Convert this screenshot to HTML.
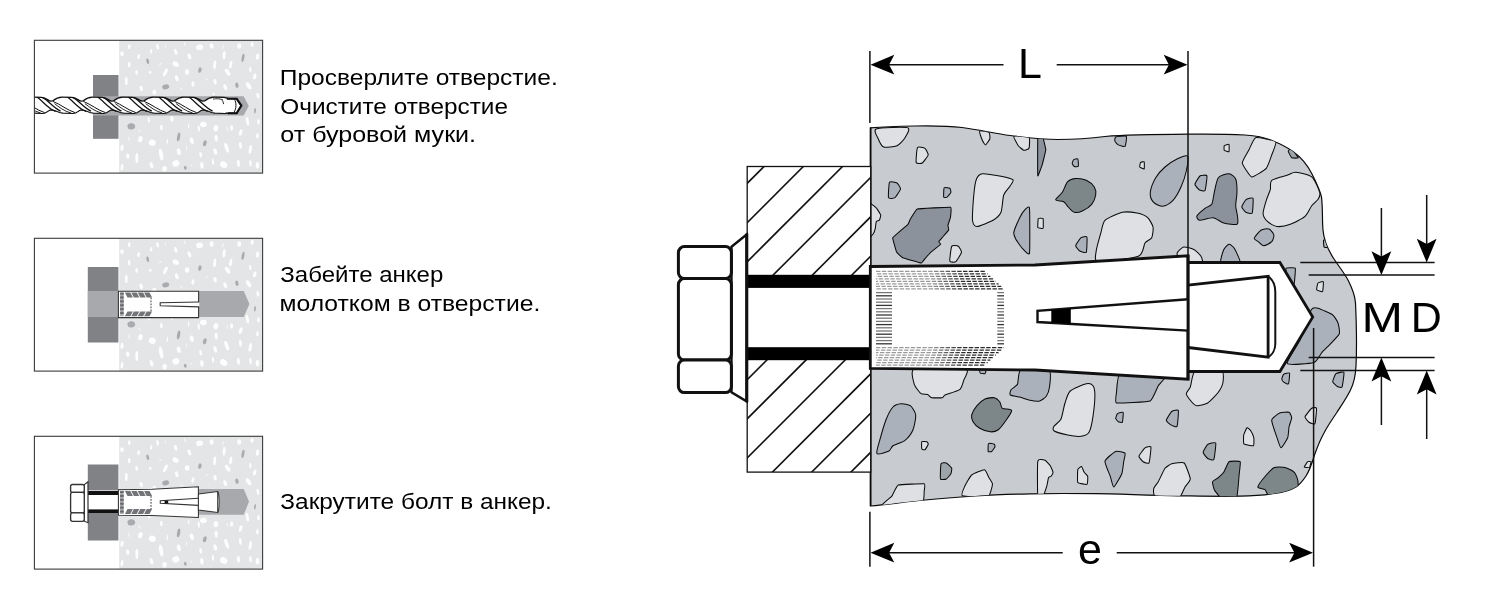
<!DOCTYPE html>
<html><head><meta charset="utf-8"><title>Anchor installation</title>
<style>
html,body{margin:0;padding:0;background:#fff;}
body{width:1500px;height:600px;overflow:hidden;font-family:"Liberation Sans",sans-serif;}
svg{display:block;}
</style></head><body>
<svg width="1500" height="600" viewBox="0 0 1500 600">
<rect width="1500" height="600" fill="#fff"/>
<filter id="nf" x="0" y="0" width="1500" height="600" filterUnits="userSpaceOnUse"><feOffset dx="0" dy="0"/></filter>
<defs><g id="spk">
<rect x="119.2" y="0" width="143.3" height="132.8" fill="#e4e5e6"/>
<ellipse cx="129.2" cy="6.4" rx="1.33" ry="2.44" fill="#fdfdfd" transform="rotate(0 129.2 6.4)"/>
<ellipse cx="122.0" cy="13.4" rx="1.77" ry="2.44" fill="#fdfdfd" transform="rotate(0 122.0 13.4)"/>
<ellipse cx="129.2" cy="24.3" rx="1.33" ry="2.77" fill="#fdfdfd" transform="rotate(0 129.2 24.3)"/>
<ellipse cx="126.3" cy="40.6" rx="1.33" ry="4.21" fill="#fdfdfd" transform="rotate(0 126.3 40.6)"/>
<ellipse cx="136.6" cy="32.1" rx="1.33" ry="2.44" fill="#fdfdfd" transform="rotate(0 136.6 32.1)"/>
<ellipse cx="138.6" cy="16.4" rx="1.33" ry="2.44" fill="#fdfdfd" transform="rotate(10 138.6 16.4)"/>
<ellipse cx="141.2" cy="48.1" rx="1.66" ry="2.77" fill="#fdfdfd" transform="rotate(-15 141.2 48.1)"/>
<ellipse cx="147.7" cy="21.0" rx="1.33" ry="2.77" fill="#a9abae" transform="rotate(-15 147.7 21.0)"/>
<ellipse cx="151.2" cy="11.1" rx="1.11" ry="2.44" fill="#fdfdfd" transform="rotate(10 151.2 11.1)"/>
<ellipse cx="150.2" cy="32.1" rx="1.33" ry="1.33" fill="#fdfdfd" transform="rotate(0 150.2 32.1)"/>
<ellipse cx="154.3" cy="51.9" rx="1.99" ry="2.44" fill="#fdfdfd" transform="rotate(0 154.3 51.9)"/>
<ellipse cx="157.6" cy="6.4" rx="1.33" ry="2.77" fill="#fdfdfd" transform="rotate(-10 157.6 6.4)"/>
<ellipse cx="165.4" cy="32.1" rx="1.66" ry="4.21" fill="#fdfdfd" transform="rotate(25 165.4 32.1)"/>
<ellipse cx="165.7" cy="46.5" rx="3.55" ry="2.44" fill="#a9abae" transform="rotate(-15 165.7 46.5)"/>
<ellipse cx="175.7" cy="11.5" rx="1.44" ry="3.10" fill="#fdfdfd" transform="rotate(-15 175.7 11.5)"/>
<ellipse cx="175.7" cy="23.9" rx="3.32" ry="2.44" fill="#fdfdfd" transform="rotate(30 175.7 23.9)"/>
<ellipse cx="176.8" cy="37.9" rx="1.66" ry="3.10" fill="#fdfdfd" transform="rotate(-15 176.8 37.9)"/>
<ellipse cx="187.1" cy="31.8" rx="2.22" ry="2.77" fill="#fdfdfd" transform="rotate(0 187.1 31.8)"/>
<ellipse cx="189.4" cy="16.1" rx="1.66" ry="3.10" fill="#fdfdfd" transform="rotate(-20 189.4 16.1)"/>
<ellipse cx="192.9" cy="43.8" rx="1.44" ry="2.77" fill="#fdfdfd" transform="rotate(10 192.9 43.8)"/>
<ellipse cx="199.6" cy="7.0" rx="3.55" ry="2.77" fill="#fdfdfd" transform="rotate(-10 199.6 7.0)"/>
<ellipse cx="199.9" cy="29.8" rx="1.66" ry="2.77" fill="#a9abae" transform="rotate(15 199.9 29.8)"/>
<ellipse cx="211.6" cy="5.6" rx="1.99" ry="2.77" fill="#fdfdfd" transform="rotate(-10 211.6 5.6)"/>
<ellipse cx="214.7" cy="24.5" rx="1.44" ry="4.43" fill="#fdfdfd" transform="rotate(5 214.7 24.5)"/>
<ellipse cx="215.1" cy="41.4" rx="1.66" ry="2.77" fill="#fdfdfd" transform="rotate(-10 215.1 41.4)"/>
<ellipse cx="224.1" cy="15.0" rx="1.44" ry="4.21" fill="#fdfdfd" transform="rotate(5 224.1 15.0)"/>
<ellipse cx="225.2" cy="46.9" rx="1.66" ry="3.10" fill="#fdfdfd" transform="rotate(-20 225.2 46.9)"/>
<ellipse cx="227.6" cy="31.9" rx="1.99" ry="3.88" fill="#fdfdfd" transform="rotate(-35 227.6 31.9)"/>
<ellipse cx="230.7" cy="24.3" rx="1.44" ry="3.88" fill="#fdfdfd" transform="rotate(10 230.7 24.3)"/>
<ellipse cx="236.9" cy="44.9" rx="1.66" ry="2.77" fill="#a9abae" transform="rotate(-10 236.9 44.9)"/>
<ellipse cx="239.2" cy="5.6" rx="1.99" ry="2.77" fill="#fdfdfd" transform="rotate(0 239.2 5.6)"/>
<ellipse cx="243.0" cy="17.5" rx="1.33" ry="4.21" fill="#a9abae" transform="rotate(10 243.0 17.5)"/>
<ellipse cx="248.6" cy="45.5" rx="1.99" ry="3.88" fill="#fdfdfd" transform="rotate(-35 248.6 45.5)"/>
<ellipse cx="250.3" cy="29.2" rx="1.11" ry="2.77" fill="#fdfdfd" transform="rotate(-5 250.3 29.2)"/>
<ellipse cx="252.1" cy="4.1" rx="1.66" ry="2.44" fill="#fdfdfd" transform="rotate(10 252.1 4.1)"/>
<ellipse cx="254.7" cy="36.2" rx="1.55" ry="3.10" fill="#fdfdfd" transform="rotate(15 254.7 36.2)"/>
<ellipse cx="257.5" cy="16.4" rx="1.66" ry="3.10" fill="#fdfdfd" transform="rotate(5 257.5 16.4)"/>
<ellipse cx="257.9" cy="55.4" rx="1.33" ry="3.10" fill="#fdfdfd" transform="rotate(-10 257.9 55.4)"/>
<ellipse cx="213.6" cy="53.7" rx="1.11" ry="1.33" fill="#fdfdfd" transform="rotate(0 213.6 53.7)"/>
<ellipse cx="184.8" cy="4.1" rx="0.55" ry="1.99" fill="#fdfdfd" transform="rotate(-15 184.8 4.1)"/>
<ellipse cx="165.4" cy="5.9" rx="0.44" ry="1.66" fill="#fdfdfd" transform="rotate(10 165.4 5.9)"/>
<ellipse cx="222.9" cy="7.0" rx="0.44" ry="2.44" fill="#fdfdfd" transform="rotate(15 222.9 7.0)"/>
<ellipse cx="160.3" cy="23.9" rx="0.44" ry="1.66" fill="#fdfdfd" transform="rotate(50 160.3 23.9)"/>
<ellipse cx="206.6" cy="39.1" rx="0.44" ry="1.66" fill="#fdfdfd" transform="rotate(50 206.6 39.1)"/>
<ellipse cx="181.5" cy="48.8" rx="0.44" ry="1.66" fill="#fdfdfd" transform="rotate(-40 181.5 48.8)"/>
<ellipse cx="131.3" cy="86.1" rx="3.88" ry="3.10" fill="#a9abae" transform="rotate(-10 131.3 86.1)"/>
<ellipse cx="148.8" cy="79.7" rx="1.11" ry="2.77" fill="#fdfdfd" transform="rotate(-5 148.8 79.7)"/>
<ellipse cx="171.9" cy="78.5" rx="1.66" ry="2.77" fill="#fdfdfd" transform="rotate(-5 171.9 78.5)"/>
<ellipse cx="161.4" cy="87.3" rx="1.33" ry="2.77" fill="#fdfdfd" transform="rotate(-5 161.4 87.3)"/>
<ellipse cx="188.7" cy="85.5" rx="0.66" ry="2.77" fill="#fdfdfd" transform="rotate(5 188.7 85.5)"/>
<ellipse cx="198.8" cy="88.4" rx="1.11" ry="3.10" fill="#fdfdfd" transform="rotate(-5 198.8 88.4)"/>
<ellipse cx="203.4" cy="84.1" rx="3.32" ry="2.77" fill="#fdfdfd" transform="rotate(0 203.4 84.1)"/>
<ellipse cx="215.9" cy="87.9" rx="2.44" ry="3.10" fill="#fdfdfd" transform="rotate(10 215.9 87.9)"/>
<ellipse cx="231.6" cy="87.6" rx="1.55" ry="2.77" fill="#fdfdfd" transform="rotate(0 231.6 87.6)"/>
<ellipse cx="247.4" cy="80.9" rx="1.44" ry="4.43" fill="#fdfdfd" transform="rotate(-10 247.4 80.9)"/>
<ellipse cx="258.5" cy="81.4" rx="1.33" ry="2.77" fill="#fdfdfd" transform="rotate(0 258.5 81.4)"/>
<ellipse cx="255.0" cy="70.4" rx="0.89" ry="2.77" fill="#a9abae" transform="rotate(5 255.0 70.4)"/>
<ellipse cx="240.7" cy="92.3" rx="1.66" ry="3.32" fill="#fdfdfd" transform="rotate(15 240.7 92.3)"/>
<ellipse cx="257.5" cy="95.4" rx="1.33" ry="2.77" fill="#fdfdfd" transform="rotate(5 257.5 95.4)"/>
<ellipse cx="140.4" cy="98.9" rx="2.22" ry="3.10" fill="#fdfdfd" transform="rotate(15 140.4 98.9)"/>
<ellipse cx="152.3" cy="102.4" rx="3.55" ry="3.10" fill="#fdfdfd" transform="rotate(20 152.3 102.4)"/>
<ellipse cx="178.6" cy="96.6" rx="1.55" ry="4.43" fill="#a9abae" transform="rotate(10 178.6 96.6)"/>
<ellipse cx="191.8" cy="100.5" rx="1.99" ry="3.32" fill="#fdfdfd" transform="rotate(-15 191.8 100.5)"/>
<ellipse cx="204.8" cy="103.0" rx="1.77" ry="3.10" fill="#a9abae" transform="rotate(15 204.8 103.0)"/>
<ellipse cx="216.2" cy="97.8" rx="1.55" ry="3.32" fill="#fdfdfd" transform="rotate(-5 216.2 97.8)"/>
<ellipse cx="226.7" cy="107.5" rx="1.77" ry="4.99" fill="#fdfdfd" transform="rotate(-20 226.7 107.5)"/>
<ellipse cx="240.4" cy="105.1" rx="1.44" ry="3.32" fill="#fdfdfd" transform="rotate(-5 240.4 105.1)"/>
<ellipse cx="250.3" cy="109.1" rx="1.55" ry="4.43" fill="#fdfdfd" transform="rotate(10 250.3 109.1)"/>
<ellipse cx="122.0" cy="107.5" rx="1.55" ry="3.10" fill="#fdfdfd" transform="rotate(5 122.0 107.5)"/>
<ellipse cx="127.8" cy="115.9" rx="1.66" ry="2.77" fill="#fdfdfd" transform="rotate(-5 127.8 115.9)"/>
<ellipse cx="136.8" cy="117.6" rx="1.44" ry="4.99" fill="#fdfdfd" transform="rotate(0 136.8 117.6)"/>
<ellipse cx="161.1" cy="114.1" rx="1.99" ry="6.09" fill="#fdfdfd" transform="rotate(-10 161.1 114.1)"/>
<ellipse cx="178.8" cy="111.5" rx="1.99" ry="3.32" fill="#fdfdfd" transform="rotate(-10 178.8 111.5)"/>
<ellipse cx="200.7" cy="114.5" rx="1.33" ry="2.77" fill="#fdfdfd" transform="rotate(-10 200.7 114.5)"/>
<ellipse cx="215.3" cy="111.2" rx="1.66" ry="3.32" fill="#fdfdfd" transform="rotate(-15 215.3 111.2)"/>
<ellipse cx="151.5" cy="125.0" rx="1.66" ry="3.32" fill="#fdfdfd" transform="rotate(-15 151.5 125.0)"/>
<ellipse cx="164.6" cy="128.5" rx="2.22" ry="2.77" fill="#fdfdfd" transform="rotate(0 164.6 128.5)"/>
<ellipse cx="175.9" cy="123.1" rx="3.55" ry="3.10" fill="#fdfdfd" transform="rotate(-25 175.9 123.1)"/>
<ellipse cx="185.3" cy="127.5" rx="1.33" ry="1.99" fill="#a9abae" transform="rotate(-20 185.3 127.5)"/>
<ellipse cx="201.9" cy="125.0" rx="1.66" ry="3.32" fill="#fdfdfd" transform="rotate(-5 201.9 125.0)"/>
<ellipse cx="213.0" cy="121.5" rx="1.11" ry="3.10" fill="#fdfdfd" transform="rotate(-5 213.0 121.5)"/>
<ellipse cx="223.7" cy="124.3" rx="3.88" ry="3.10" fill="#fdfdfd" transform="rotate(30 223.7 124.3)"/>
<ellipse cx="238.4" cy="123.1" rx="1.55" ry="3.32" fill="#fdfdfd" transform="rotate(-5 238.4 123.1)"/>
<ellipse cx="250.5" cy="122.9" rx="1.22" ry="3.32" fill="#fdfdfd" transform="rotate(-5 250.5 122.9)"/>
<ellipse cx="257.5" cy="125.0" rx="1.77" ry="3.32" fill="#fdfdfd" transform="rotate(0 257.5 125.0)"/>
<ellipse cx="122.0" cy="126.9" rx="1.33" ry="3.32" fill="#fdfdfd" transform="rotate(5 122.0 126.9)"/>
<ellipse cx="139.5" cy="90.8" rx="0.44" ry="1.66" fill="#fdfdfd" transform="rotate(-40 139.5 90.8)"/>
<ellipse cx="129.0" cy="98.6" rx="0.44" ry="2.44" fill="#fdfdfd" transform="rotate(-10 129.0 98.6)"/>
<ellipse cx="167.3" cy="101.3" rx="0.66" ry="2.77" fill="#fdfdfd" transform="rotate(10 167.3 101.3)"/>
<ellipse cx="186.4" cy="107.1" rx="0.44" ry="2.22" fill="#fdfdfd" transform="rotate(-5 186.4 107.1)"/>
<ellipse cx="227.2" cy="88.4" rx="0.44" ry="2.22" fill="#fdfdfd" transform="rotate(-5 227.2 88.4)"/>
<ellipse cx="191.4" cy="125.4" rx="0.44" ry="1.66" fill="#fdfdfd" transform="rotate(-40 191.4 125.4)"/>
</g></defs>
<g><use href="#spk" y="40.3"/>
<rect x="93" y="75" width="25.5" height="63.8" fill="#808285"/>
<path d="M93,96.2 H243.6 L248.8,105.9 L243.6,115.6 H93 Z" fill="#a7a9ac"/>
<clipPath id="dclip"><rect x="34.4" y="90" width="206" height="32"/></clipPath>
<g clip-path="url(#dclip)">
<path d="M28,98.6 L22.1,101.0 C25.1,98.6 27.6,97.2 31.6,97.2 L41.6,97.4 C46.6,98.0 48.6,101.0 51.0,101.2 L52.5,101.0 C55.5,98.6 58.0,97.2 62.0,97.2 L72.0,97.4 C77.0,98.0 79.0,101.0 81.4,101.2 L82.9,101.0 C85.9,98.6 88.4,97.2 92.4,97.2 L102.4,97.4 C107.4,98.0 109.4,101.0 111.8,101.2 L113.3,101.0 C116.3,98.6 118.8,97.2 122.8,97.2 L132.8,97.4 C137.8,98.0 139.8,101.0 142.2,101.2 L143.7,101.0 C146.7,98.6 149.2,97.2 153.2,97.2 L163.2,97.4 C168.2,98.0 170.2,101.0 172.6,101.2 L174.1,101.0 C177.1,98.6 179.6,97.2 183.6,97.2 L193.6,97.4 C198.6,98.0 200.6,101.0 203.0,101.2 L204.5,101.0 C207.5,98.6 210.0,97.2 214.0,97.2 L224.0,97.4 C229.0,98.0 231.0,101.0 233.4,101.2 L228,98.6 L237,98.6 L237,113.1 L226,113.1 L233.4,109.8 C229.4,110.6 230.0,113.4 225.0,113.5 L215.0,113.2 C210.0,112.8 208.0,110.2 203.0,109.8 L203.0,109.8 C199.0,110.6 199.6,113.4 194.6,113.5 L184.6,113.2 C179.6,112.8 177.6,110.2 172.6,109.8 L172.6,109.8 C168.6,110.6 169.2,113.4 164.2,113.5 L154.2,113.2 C149.2,112.8 147.2,110.2 142.2,109.8 L142.2,109.8 C138.2,110.6 138.8,113.4 133.8,113.5 L123.8,113.2 C118.8,112.8 116.8,110.2 111.8,109.8 L111.8,109.8 C107.8,110.6 108.4,113.4 103.4,113.5 L93.4,113.2 C88.4,112.8 86.4,110.2 81.4,109.8 L81.4,109.8 C77.4,110.6 78.0,113.4 73.0,113.5 L63.0,113.2 C58.0,112.8 56.0,110.2 51.0,109.8 L51.0,109.8 C47.0,110.6 47.6,113.4 42.6,113.5 L32.6,113.2 C27.6,112.8 25.6,110.2 20.6,109.8 L28,112.6 Z" fill="#fff" stroke="#111" stroke-width="1.25" stroke-linejoin="round"/>
<path d="M37.1,97.3 C42.6,100.6 47.6,108.6 55.6,111.4" fill="none" stroke="#111" stroke-width="1.2"/>
<path d="M42.6,97.6 C48.6,100.6 52.6,107.1 60.6,111.1" fill="none" stroke="#111" stroke-width="1.2"/>
<path d="M22.6,101.4 C30.6,104.6 36.6,110.1 44.6,112.6" fill="none" stroke="#111" stroke-width="1"/>
<path d="M24.1,103.6 C28.6,107.1 33.6,111.1 40.6,113.0" fill="none" stroke="#111" stroke-width="0.9"/>
<path d="M67.5,97.3 C73.0,100.6 78.0,108.6 86.0,111.4" fill="none" stroke="#111" stroke-width="1.2"/>
<path d="M73.0,97.6 C79.0,100.6 83.0,107.1 91.0,111.1" fill="none" stroke="#111" stroke-width="1.2"/>
<path d="M53.0,101.4 C61.0,104.6 67.0,110.1 75.0,112.6" fill="none" stroke="#111" stroke-width="1"/>
<path d="M54.5,103.6 C59.0,107.1 64.0,111.1 71.0,113.0" fill="none" stroke="#111" stroke-width="0.9"/>
<path d="M97.9,97.3 C103.4,100.6 108.4,108.6 116.4,111.4" fill="none" stroke="#111" stroke-width="1.2"/>
<path d="M103.4,97.6 C109.4,100.6 113.4,107.1 121.4,111.1" fill="none" stroke="#111" stroke-width="1.2"/>
<path d="M83.4,101.4 C91.4,104.6 97.4,110.1 105.4,112.6" fill="none" stroke="#111" stroke-width="1"/>
<path d="M84.9,103.6 C89.4,107.1 94.4,111.1 101.4,113.0" fill="none" stroke="#111" stroke-width="0.9"/>
<path d="M128.3,97.3 C133.8,100.6 138.8,108.6 146.8,111.4" fill="none" stroke="#111" stroke-width="1.2"/>
<path d="M133.8,97.6 C139.8,100.6 143.8,107.1 151.8,111.1" fill="none" stroke="#111" stroke-width="1.2"/>
<path d="M113.8,101.4 C121.8,104.6 127.8,110.1 135.8,112.6" fill="none" stroke="#111" stroke-width="1"/>
<path d="M115.3,103.6 C119.8,107.1 124.8,111.1 131.8,113.0" fill="none" stroke="#111" stroke-width="0.9"/>
<path d="M158.7,97.3 C164.2,100.6 169.2,108.6 177.2,111.4" fill="none" stroke="#111" stroke-width="1.2"/>
<path d="M164.2,97.6 C170.2,100.6 174.2,107.1 182.2,111.1" fill="none" stroke="#111" stroke-width="1.2"/>
<path d="M144.2,101.4 C152.2,104.6 158.2,110.1 166.2,112.6" fill="none" stroke="#111" stroke-width="1"/>
<path d="M145.7,103.6 C150.2,107.1 155.2,111.1 162.2,113.0" fill="none" stroke="#111" stroke-width="0.9"/>
<path d="M189.1,97.3 C194.6,100.6 199.6,108.6 207.6,111.4" fill="none" stroke="#111" stroke-width="1.2"/>
<path d="M194.6,97.6 C200.6,100.6 204.6,107.1 212.6,111.1" fill="none" stroke="#111" stroke-width="1.2"/>
<path d="M174.6,101.4 C182.6,104.6 188.6,110.1 196.6,112.6" fill="none" stroke="#111" stroke-width="1"/>
<path d="M176.1,103.6 C180.6,107.1 185.6,111.1 192.6,113.0" fill="none" stroke="#111" stroke-width="0.9"/>
</g>
<path d="M226.5,98.6 H236.5 L241.3,105.6 L236.5,113.3 H226.5" fill="#fff" stroke="#111" stroke-width="1.4" stroke-linejoin="miter"/>
<path d="M227,98.7 H236.6 L241.4,105.6 L236.6,113.3 H228" fill="none" stroke="#111" stroke-width="2.1" stroke-linejoin="miter" stroke-dasharray="14 0"/>
<path d="M234.3,99.1 C236.6,102.6 236.6,108.6 233.8,112.6" fill="none" stroke="#111" stroke-width="1"/>
<path d="M223,100.1 C222,98.8 216,98.4 213,99.1 M221.5,99.6 C223,101.1 223.5,102.6 223.5,104.1" fill="none" stroke="#111" stroke-width="0.9"/>
<rect x="34.4" y="40.3" width="228.2" height="132.8" fill="none" stroke="#3a3a3a" stroke-width="1.1"/></g>
<g><use href="#spk" y="238.3"/>
<rect x="87.8" y="267" width="30.6" height="75.5" fill="#808285"/>
<path d="M87.8,291 H243.8 L249.4,303.9 L243.8,317 H87.8 Z" fill="#a7a9ac"/>
<path d="M118.4,291.2 H198.6 V317.6 H118.4 Z" fill="#fff" stroke="#333" stroke-width="1.05" stroke-linejoin="miter"/>
<path d="M199.4,302 L160.2,302.8 V305.8 L199.4,306.9 Z" fill="#fff" stroke="none"/>
<path d="M199.2,302 L160.2,302.8 V305.8 L199.2,306.9" fill="none" stroke="#333" stroke-width="1.1" stroke-linejoin="miter"/>
<rect x="120.1" y="292.6" width="3.6" height="23.6" fill="#a3a4a7"/>
<rect x="120.1" y="292.6" width="3.6" height="1.9" fill="#67686b"/>
<rect x="120.1" y="296.5" width="3.6" height="1.9" fill="#67686b"/>
<rect x="120.1" y="300.4" width="3.6" height="1.9" fill="#67686b"/>
<rect x="120.1" y="304.3" width="3.6" height="1.9" fill="#67686b"/>
<rect x="120.1" y="308.2" width="3.6" height="1.9" fill="#67686b"/>
<rect x="120.1" y="312.1" width="3.6" height="1.9" fill="#67686b"/>
<path d="M124.9,292.6 l5.4,0 l2.6,4.8 l-5.4,0 Z" fill="#737477"/>
<path d="M127.5,311.4 l5.4,0 l-2.6,4.8 l-5.4,0 Z" fill="#737477"/>
<path d="M131.3,292.6 l5.4,0 l2.6,4.8 l-5.4,0 Z" fill="#737477"/>
<path d="M133.9,311.4 l5.4,0 l-2.6,4.8 l-5.4,0 Z" fill="#737477"/>
<path d="M137.7,292.6 l5.4,0 l2.6,4.8 l-5.4,0 Z" fill="#737477"/>
<path d="M140.3,311.4 l5.4,0 l-2.6,4.8 l-5.4,0 Z" fill="#737477"/>
<path d="M144.1,292.6 l5.4,0 l2.6,4.8 l-5.4,0 Z" fill="#737477"/>
<path d="M146.7,311.4 l5.4,0 l-2.6,4.8 l-5.4,0 Z" fill="#737477"/>
<path d="M151.0,297.6 V311.2" fill="none" stroke="#737477" stroke-width="1.4" stroke-dasharray="1.6 1.4"/>
<rect x="34.4" y="238.3" width="228.2" height="132.8" fill="none" stroke="#3a3a3a" stroke-width="1.1"/></g>
<g><use href="#spk" y="436.3"/>
<rect x="87.8" y="464.5" width="30.6" height="76" fill="#808285"/>
<path d="M118,489 H243.7 L249,501.6 L243.7,514.7 H118 Z" fill="#a7a9ac"/>
<rect x="87.8" y="490.2" width="30.8" height="23.2" fill="#fff"/>
<rect x="87.8" y="490.9" width="30.8" height="4.1" fill="#111"/>
<rect x="87.8" y="509.4" width="30.8" height="3.9" fill="#111"/>
<path d="M84.3,484.6 L88,481.7 V522.7 L84.3,521.2 Z" fill="#fff" stroke="#333" stroke-width="1.2"/>
<rect x="70.6" y="484.5" width="13.7" height="7.9" rx="2" fill="#fff" stroke="#333" stroke-width="1.35"/>
<rect x="70.6" y="492.4" width="13.7" height="20.5" rx="2" fill="#fff" stroke="#333" stroke-width="1.35"/>
<rect x="70.6" y="512.9" width="13.7" height="8.4" rx="2" fill="#fff" stroke="#333" stroke-width="1.35"/>
<path d="M118.4,489.7 L152,489.3 L198.4,486.7 V517.4 L152,515.6 L118.4,515.3 Z" fill="#fff" stroke="#333" stroke-width="1.05" stroke-linejoin="miter"/>
<rect x="120.1" y="491.1" width="3.6" height="22.8" fill="#a3a4a7"/>
<rect x="120.1" y="491.1" width="3.6" height="1.9" fill="#67686b"/>
<rect x="120.1" y="495.0" width="3.6" height="1.9" fill="#67686b"/>
<rect x="120.1" y="498.9" width="3.6" height="1.9" fill="#67686b"/>
<rect x="120.1" y="502.8" width="3.6" height="1.9" fill="#67686b"/>
<rect x="120.1" y="506.7" width="3.6" height="1.9" fill="#67686b"/>
<rect x="120.1" y="510.6" width="3.6" height="1.9" fill="#67686b"/>
<path d="M124.9,491.1 l5.4,0 l2.6,4.8 l-5.4,0 Z" fill="#737477"/>
<path d="M127.5,509.1 l5.4,0 l-2.6,4.8 l-5.4,0 Z" fill="#737477"/>
<path d="M131.3,491.1 l5.4,0 l2.6,4.8 l-5.4,0 Z" fill="#737477"/>
<path d="M133.9,509.1 l5.4,0 l-2.6,4.8 l-5.4,0 Z" fill="#737477"/>
<path d="M137.7,491.1 l5.4,0 l2.6,4.8 l-5.4,0 Z" fill="#737477"/>
<path d="M140.3,509.1 l5.4,0 l-2.6,4.8 l-5.4,0 Z" fill="#737477"/>
<path d="M144.1,491.1 l5.4,0 l2.6,4.8 l-5.4,0 Z" fill="#737477"/>
<path d="M146.7,509.1 l5.4,0 l-2.6,4.8 l-5.4,0 Z" fill="#737477"/>
<path d="M151.0,496.1 V508.9" fill="none" stroke="#737477" stroke-width="1.4" stroke-dasharray="1.6 1.4"/>
<path d="M198.4,498.3 L160.3,500.8 V503.3 L198.4,505.4" fill="#fff" stroke="#333" stroke-width="1.1" stroke-linejoin="miter"/>
<rect x="164.6" y="500.6" width="3.6" height="2.8" fill="#111"/>
<path d="M198.4,494 L217.8,491.6 C219.5,494 219.5,510 217.8,512.4 L198.4,510 Z" fill="#fff" stroke="#333" stroke-width="1.05" stroke-linejoin="miter"/>
<path d="M217.6,491.8 V512.2" stroke="#333" stroke-width="0.9"/>
<rect x="34.4" y="436.3" width="228.2" height="132.8" fill="none" stroke="#3a3a3a" stroke-width="1.1"/></g>
<g font-family="Liberation Sans, sans-serif" font-size="22" fill="#000" filter="url(#nf)">
<text id="t1" x="279.8" y="84.6" textLength="278" lengthAdjust="spacingAndGlyphs">Просверлите отверстие.</text>
<text id="t2" x="280.3" y="113.6" textLength="227.7" lengthAdjust="spacingAndGlyphs">Очистите отверстие</text>
<text id="t3" x="280.3" y="142.4" textLength="195.8" lengthAdjust="spacingAndGlyphs">от буровой муки.</text>
<text id="t4" x="280.3" y="282.4" textLength="163" lengthAdjust="spacingAndGlyphs">Забейте анкер</text>
<text id="t5" x="279.5" y="311.4" textLength="260.8" lengthAdjust="spacingAndGlyphs">молотком в отверстие.</text>
<text id="t6" x="280.3" y="508.6" textLength="271.6" lengthAdjust="spacingAndGlyphs">Закрутите болт в анкер.</text>
</g>
<!-- main diagram -->
<clipPath id="cc"><path d="M870.5,127.8 C885,126.5 900,126.2 915,126 C935,125.7 950,126 962,127.5 C980,130 995,133.5 1010,135.5 C1030,138 1045,139.5 1058,139.5 C1075,139.5 1090,138.5 1105,136.5 C1125,135 1150,134.5 1188,134.2 C1210,134 1230,134.2 1245,135 C1258,135.8 1266,138 1272,140.5 C1282,144.5 1288,148 1293,151.5 C1302,158 1308,166 1312,174 C1317,184 1320,190 1321.5,197 C1323,210 1322,220 1323,230 C1324,242 1328,250 1334,259 C1340,268 1345,274 1348.5,281 C1353,290 1355,296 1355.5,303 C1356.5,325 1357,345 1356,366 C1355.5,376 1354,383 1350.5,390 C1346,399 1341,406 1336.5,413 C1331,421 1327,427 1324,433 C1320,440 1317,448 1314.5,455 C1312,463 1310,470 1306,476 C1302,482 1300,484.5 1296,487 C1290,490.5 1282,492.5 1275,493.5 C1262,495.5 1252,496 1240,496.2 C1215,496.5 1195,496 1178,495.8 C1150,495.5 1120,494 1095,493.7 C1070,493.4 1050,493.4 1030,493.8 C1005,494.3 990,495 975,496 C955,497.3 940,498.5 925,500 C905,502 888,504.3 870.5,506 Z"/></clipPath>
<path d="M870.5,127.8 C885,126.5 900,126.2 915,126 C935,125.7 950,126 962,127.5 C980,130 995,133.5 1010,135.5 C1030,138 1045,139.5 1058,139.5 C1075,139.5 1090,138.5 1105,136.5 C1125,135 1150,134.5 1188,134.2 C1210,134 1230,134.2 1245,135 C1258,135.8 1266,138 1272,140.5 C1282,144.5 1288,148 1293,151.5 C1302,158 1308,166 1312,174 C1317,184 1320,190 1321.5,197 C1323,210 1322,220 1323,230 C1324,242 1328,250 1334,259 C1340,268 1345,274 1348.5,281 C1353,290 1355,296 1355.5,303 C1356.5,325 1357,345 1356,366 C1355.5,376 1354,383 1350.5,390 C1346,399 1341,406 1336.5,413 C1331,421 1327,427 1324,433 C1320,440 1317,448 1314.5,455 C1312,463 1310,470 1306,476 C1302,482 1300,484.5 1296,487 C1290,490.5 1282,492.5 1275,493.5 C1262,495.5 1252,496 1240,496.2 C1215,496.5 1195,496 1178,495.8 C1150,495.5 1120,494 1095,493.7 C1070,493.4 1050,493.4 1030,493.8 C1005,494.3 990,495 975,496 C955,497.3 940,498.5 925,500 C905,502 888,504.3 870.5,506 Z" fill="#c8cbcf" stroke="#0a0a0a" stroke-width="1.2"/>
<g clip-path="url(#cc)" stroke="#0a0a0a" stroke-width="1.05" stroke-linejoin="round">
<path d="M876.2,128.9 C879.5,127.6 904.5,126.8 907.7,127.8 C910.9,128.8 906.2,135.7 905.0,137.7 C903.8,139.7 899.4,144.7 897.0,145.7 C894.6,146.7 885.8,147.8 883.7,147.0 C881.6,146.2 879.1,141.0 878.3,139.0 C877.5,137.0 872.9,130.2 876.2,128.9Z" fill="#dfe0e3"/>
<path d="M917.5,147.5 C918.2,146.4 924.2,147.7 925.0,148.3 C925.8,148.9 928.4,153.9 928.2,155.0 C928.0,156.1 923.2,162.4 922.3,163.0 C921.4,163.6 916.6,163.7 916.2,162.5 C915.8,161.3 916.8,148.6 917.5,147.5Z" fill="#dfe0e3"/>
<path d="M889.5,182.2 C890.1,181.1 896.2,182.5 897.0,183.0 C897.8,183.5 900.7,187.9 900.5,189.0 C900.3,190.1 895.8,197.0 894.9,197.7 C894.0,198.4 888.9,198.9 888.5,197.7 C888.1,196.5 888.9,183.3 889.5,182.2Z" fill="#abb1bb"/>
<path d="M944.2,187.8 C944.7,187.1 949.3,188.0 949.8,188.3 C950.3,188.6 951.1,191.6 950.9,192.3 C950.7,193.0 947.6,196.7 947.1,197.1 C946.6,197.5 943.9,197.8 943.7,197.1 C943.5,196.4 943.7,188.5 944.2,187.8Z" fill="#abb1bb"/>
<path d="M917.3,209.0 C918.5,208.6 949.7,207.0 950.7,207.3 C951.7,207.6 950.5,217.2 950.4,217.7 C950.3,218.2 948.1,224.6 948.0,225.0 C947.9,225.4 948.8,229.7 948.7,230.0 C948.6,230.3 943.6,235.9 943.3,236.3 C943.0,236.7 938.8,241.5 938.7,241.7 C938.6,241.9 940.9,244.0 940.7,244.3 C940.5,244.6 931.2,251.9 930.7,252.3 C930.2,252.7 925.6,258.0 925.3,258.3 C925.0,258.6 922.0,263.0 921.3,263.0 C920.6,263.0 903.4,258.0 902.7,257.7 C902.0,257.4 897.0,252.9 896.7,252.3 C896.4,251.7 892.4,238.5 892.7,237.7 C893.0,236.9 907.5,224.8 908.0,224.3 C908.5,223.8 909.7,220.2 910.0,219.7 C910.3,219.2 916.1,209.4 917.3,209.0Z" fill="#8b929c"/>
<path d="M951.7,246.2 C952.3,245.1 957.6,245.7 958.3,246.2 C959.0,246.7 961.7,251.1 961.5,252.3 C961.3,253.5 956.6,261.0 955.7,261.7 C954.8,262.4 950.1,262.3 949.8,261.1 C949.5,259.9 951.1,247.3 951.7,246.2Z" fill="#dfe0e3"/>
<path d="M868.0,203.5 C868.6,201.3 875.0,206.8 876.0,207.7 C877.0,208.6 880.5,214.1 880.7,215.0 C880.9,215.9 879.6,219.8 879.3,220.3 C879.0,220.8 876.6,220.9 876.3,221.5 C876.0,222.1 875.5,227.4 875.3,228.3 C875.1,229.2 873.8,233.0 873.3,233.7 C872.8,234.4 868.4,239.8 868.0,237.5 C867.6,235.2 867.4,205.7 868.0,203.5Z" fill="#dfe0e3"/>
<path d="M982.3,173.7 C985.1,173.4 997.5,175.6 1001.0,176.3 C1004.5,177.0 1012.0,178.7 1013.0,179.8 C1014.0,180.9 1011.3,184.0 1010.3,185.7 C1009.3,187.4 1004.7,192.0 1003.7,195.0 C1002.7,198.0 1002.2,209.5 1001.0,212.3 C999.8,215.1 995.7,218.7 993.0,220.3 C990.3,221.9 979.3,226.5 977.0,226.5 C974.7,226.5 972.9,223.8 972.5,220.3 C972.1,216.8 973.3,199.6 973.8,195.0 C974.2,190.4 975.5,181.4 976.5,179.0 C977.5,176.6 979.5,174.0 982.3,173.7Z" fill="#dfe0e3"/>
<path d="M979.7,131.0 C980.2,130.4 988.2,131.7 989.0,132.3 C989.8,132.9 990.1,138.1 989.8,139.0 C989.5,139.9 986.1,144.8 985.5,144.9 C984.9,145.0 982.7,141.3 982.3,140.3 C981.9,139.3 979.2,131.6 979.7,131.0Z" fill="#dfe0e3"/>
<path d="M1013.8,136.3 C1014.6,135.7 1027.9,136.2 1029.0,137.1 C1030.1,138.0 1029.4,147.3 1029.0,148.3 C1028.6,149.3 1024.5,150.4 1023.7,150.2 C1022.9,150.0 1019.0,146.7 1018.3,145.7 C1017.6,144.7 1013.0,136.9 1013.8,136.3Z" fill="#dfe0e3"/>
<path d="M1037.8,138.5 C1038.0,137.1 1042.8,138.1 1043.1,138.5 C1043.4,138.9 1045.8,148.7 1045.8,149.7 C1045.8,150.7 1042.6,163.3 1042.3,164.3 C1042.0,165.3 1038.0,176.8 1037.8,175.8 C1037.6,174.8 1037.6,139.9 1037.8,138.5Z" fill="#8b929c"/>
<path d="M1029.5,208.3 C1029.8,211.6 1030.0,250.1 1029.5,253.1 C1029.0,256.1 1023.3,249.4 1022.3,248.3 C1021.3,247.2 1016.3,240.2 1015.7,239.0 C1015.1,237.8 1013.5,233.9 1013.8,232.3 C1014.1,230.7 1018.9,219.4 1019.7,217.7 C1020.5,216.0 1024.3,210.4 1025.0,209.7 C1025.7,209.0 1029.2,205.0 1029.5,208.3Z" fill="#abb1bb"/>
<path d="M1038.3,218.5 C1038.6,218.1 1042.9,218.0 1043.1,218.5 C1043.3,219.0 1043.4,227.9 1043.1,228.3 C1042.8,228.8 1038.0,228.0 1037.8,227.5 C1037.6,227.0 1038.0,218.9 1038.3,218.5Z" fill="#dfe0e3"/>
<path d="M1073.5,159.8 C1073.9,159.5 1077.4,158.5 1077.8,159.0 C1078.2,159.5 1078.6,165.6 1078.3,166.2 C1078.0,166.8 1074.8,166.7 1074.3,166.5 C1073.8,166.3 1072.3,164.0 1072.2,163.5 C1072.1,163.0 1073.1,160.1 1073.5,159.8Z" fill="#abb1bb"/>
<path d="M1055.7,199.8 C1055.5,198.4 1060.5,195.0 1062.3,192.3 C1064.1,189.6 1065.7,183.8 1067.7,181.7 C1069.7,179.6 1072.9,178.7 1075.7,178.5 C1078.5,178.3 1083.5,179.0 1086.3,180.3 C1089.1,181.6 1092.9,184.8 1094.3,187.0 C1095.7,189.2 1096.1,192.4 1095.7,195.0 C1095.3,197.6 1093.7,201.9 1091.7,204.3 C1089.7,206.7 1084.9,209.8 1082.3,211.0 C1079.7,212.2 1076.4,212.9 1074.3,212.3 C1072.2,211.7 1069.8,208.6 1068.2,207.0 C1066.6,205.4 1065.6,202.8 1063.7,201.7 C1061.8,200.6 1055.9,201.2 1055.7,199.8Z" fill="#7d8789"/>
<path d="M1081.0,237.7 C1081.8,237.1 1086.5,236.0 1086.9,237.1 C1087.3,238.2 1086.8,251.3 1086.3,252.3 C1085.8,253.3 1080.5,251.5 1079.7,251.0 C1078.9,250.5 1075.6,246.7 1075.7,245.7 C1075.8,244.7 1080.2,238.3 1081.0,237.7Z" fill="#abb1bb"/>
<path d="M1105.0,220.3 C1107.4,218.1 1118.7,213.1 1122.3,212.3 C1125.9,211.5 1134.1,212.5 1137.0,213.1 C1139.9,213.7 1145.9,216.1 1147.7,217.7 C1149.5,219.3 1152.5,224.8 1153.0,227.0 C1153.5,229.2 1152.6,235.9 1151.7,237.7 C1150.8,239.5 1146.5,240.9 1145.0,243.0 C1143.5,245.1 1143.6,254.2 1138.3,256.3 C1133.0,258.4 1103.0,262.6 1098.3,262.0 C1093.6,261.4 1095.9,254.3 1096.2,251.0 C1096.5,247.7 1100.0,235.8 1101.0,232.3 C1102.0,228.8 1102.6,222.6 1105.0,220.3Z" fill="#dfe0e3"/>
<path d="M1115.7,136.9 C1116.6,136.5 1125.6,135.6 1126.3,136.3 C1127.0,137.0 1125.6,145.9 1125.0,146.5 C1124.4,147.1 1119.1,145.3 1118.3,144.9 C1117.5,144.5 1115.1,141.7 1114.9,141.1 C1114.7,140.5 1114.8,137.3 1115.7,136.9Z" fill="#abb1bb"/>
<path d="M1140.5,162.5 C1140.7,162.2 1144.0,161.4 1144.2,161.7 C1144.4,162.0 1144.4,168.6 1144.2,168.9 C1144.0,169.2 1139.9,167.3 1139.7,167.0 C1139.5,166.7 1140.3,162.8 1140.5,162.5Z" fill="#dfe0e3"/>
<path d="M1187.7,156.3 C1186.3,154.5 1180.4,157.4 1177.0,159.0 C1173.6,160.6 1168.2,164.2 1165.0,167.0 C1161.8,169.8 1157.9,173.9 1155.7,177.7 C1153.5,181.5 1150.7,188.7 1150.3,192.3 C1149.9,195.9 1151.2,199.6 1153.0,201.7 C1154.8,203.8 1159.3,206.4 1162.3,206.2 C1165.3,206.0 1170.2,203.2 1173.0,200.3 C1175.8,197.4 1179.0,191.4 1181.0,187.0 C1183.0,182.6 1185.3,175.6 1186.3,171.0 C1187.3,166.4 1189.1,158.1 1187.7,156.3Z" fill="#abb1bb"/>
<path d="M1224.2,145.7 C1224.4,145.4 1228.8,144.0 1229.0,144.3 C1229.2,144.6 1229.2,151.5 1229.0,151.8 C1228.8,152.1 1224.4,150.5 1224.2,150.2 C1224.0,149.9 1224.0,146.0 1224.2,145.7Z" fill="#dfe0e3"/>
<path d="M1255.7,137.7 C1257.7,137.1 1274.5,140.4 1275.7,141.7 C1276.9,143.0 1272.4,153.0 1271.7,155.0 C1271.0,157.0 1267.8,166.7 1266.3,168.3 C1264.8,169.9 1253.5,177.3 1251.7,176.9 C1249.9,176.5 1242.5,165.0 1242.3,163.0 C1242.1,161.0 1248.0,151.6 1249.0,149.7 C1250.0,147.8 1253.7,138.3 1255.7,137.7Z" fill="#dfe0e3"/>
<path d="M1288.2,151.0 C1288.2,150.4 1290.9,148.6 1291.7,149.1 C1292.5,149.6 1298.3,157.1 1298.3,157.7 C1298.3,158.3 1292.5,158.2 1291.7,157.7 C1290.9,157.2 1288.2,151.6 1288.2,151.0Z" fill="#9ea5aa"/>
<path d="M1200.2,175.8 C1201.1,175.2 1206.5,174.7 1206.9,175.8 C1207.3,176.9 1205.6,189.5 1205.0,190.5 C1204.4,191.5 1199.9,190.2 1199.1,189.7 C1198.3,189.2 1194.8,185.3 1194.9,184.3 C1195.0,183.3 1199.3,176.4 1200.2,175.8Z" fill="#abb1bb"/>
<path d="M1218.3,177.7 C1220.1,175.4 1226.8,173.5 1229.0,173.7 C1231.2,173.9 1234.7,176.7 1235.7,179.0 C1236.7,181.3 1237.0,189.0 1237.0,192.3 C1237.0,195.6 1235.6,202.7 1235.7,205.7 C1235.8,208.7 1237.3,214.0 1237.5,216.3 C1237.7,218.6 1238.7,223.5 1237.0,224.3 C1235.3,225.1 1226.7,223.8 1223.7,223.0 C1220.7,222.2 1216.0,218.0 1213.0,217.7 C1210.0,217.4 1201.7,220.5 1199.7,220.3 C1197.7,220.1 1196.3,217.3 1197.0,215.8 C1197.7,214.3 1203.2,209.7 1205.0,208.3 C1206.8,206.9 1210.5,206.3 1211.7,204.3 C1212.9,202.3 1213.5,195.6 1214.3,192.3 C1215.1,189.0 1216.5,180.0 1218.3,177.7Z" fill="#8b929c"/>
<path d="M1245.8,199.8 C1246.6,199.1 1252.5,197.2 1253.0,198.2 C1253.5,199.2 1252.7,212.0 1252.2,213.1 C1251.7,214.2 1246.6,212.8 1245.8,212.3 C1245.0,211.8 1241.8,207.9 1241.8,207.0 C1241.8,206.1 1245.0,200.5 1245.8,199.8Z" fill="#abb1bb"/>
<path d="M1271.7,180.3 C1273.9,178.5 1284.7,176.0 1287.7,175.0 C1290.7,174.0 1292.7,172.1 1295.7,172.3 C1298.7,172.5 1308.7,174.4 1311.7,176.9 C1314.7,179.4 1318.9,189.5 1319.7,192.3 C1320.5,195.1 1319.3,197.3 1318.3,199.0 C1317.3,200.7 1313.4,203.5 1311.7,205.7 C1310.0,207.9 1307.7,214.0 1305.0,216.3 C1302.3,218.6 1293.8,223.0 1290.3,224.3 C1286.8,225.6 1279.8,226.8 1277.0,226.5 C1274.2,226.2 1269.4,223.3 1267.7,221.7 C1266.0,220.1 1263.3,216.4 1263.1,213.7 C1262.9,211.0 1265.4,203.3 1266.3,200.3 C1267.2,197.3 1269.6,192.2 1270.3,189.7 C1271.0,187.2 1269.5,182.1 1271.7,180.3Z" fill="#dfe0e3"/>
<path d="M1261.0,230.2 C1262.8,229.1 1267.4,228.5 1269.0,229.1 C1270.6,229.7 1273.5,233.4 1273.8,235.0 C1274.1,236.6 1273.0,240.4 1271.7,241.7 C1270.4,243.0 1265.4,245.7 1263.7,245.7 C1262.0,245.7 1259.5,242.6 1258.3,241.7 C1257.1,240.8 1254.0,239.6 1254.3,238.2 C1254.6,236.8 1259.2,231.3 1261.0,230.2Z" fill="#abb1bb"/>
<path d="M1221.0,263.7 C1219.3,262.3 1222.9,251.6 1223.7,249.7 C1224.5,247.8 1227.9,244.4 1229.0,244.3 C1230.1,244.2 1233.2,246.4 1234.3,248.3 C1235.4,250.2 1241.5,262.2 1240.2,263.7 C1238.9,265.2 1222.7,265.1 1221.0,263.7Z" fill="#abb1bb"/>
<path d="M1177.0,253.7 C1176.8,252.0 1182.0,247.4 1183.7,247.0 C1185.4,246.6 1192.6,248.8 1194.3,249.7 C1196.0,250.6 1200.2,254.9 1201.0,256.3 C1201.8,257.8 1203.8,263.4 1202.3,264.2 C1200.8,265.0 1188.0,265.2 1185.5,264.2 C1183.0,263.1 1177.2,255.4 1177.0,253.7Z" fill="#dfe0e3"/>
<path d="M914.3,369.0 C918.8,367.7 961.5,368.0 965.8,369.0 C970.1,370.0 964.2,378.5 963.7,380.3 C963.2,382.1 961.3,388.4 959.7,389.7 C958.1,391.0 946.5,394.3 945.0,395.0 C943.5,395.7 943.5,397.5 942.3,397.7 C941.1,397.9 933.0,398.0 931.7,397.7 C930.4,397.4 928.6,394.9 927.7,394.5 C926.8,394.1 922.2,394.6 921.0,393.7 C919.8,392.8 914.9,386.5 914.3,384.3 C913.7,382.1 909.8,370.3 914.3,369.0Z" fill="#dfe0e3"/>
<path d="M901.0,403.8 C903.2,403.6 908.5,404.3 910.3,405.7 C912.1,407.1 915.4,412.0 915.7,415.0 C916.0,418.0 914.3,426.5 913.0,429.7 C911.7,432.9 907.5,438.3 905.0,440.3 C902.5,442.3 895.0,444.4 893.0,445.7 C891.0,447.0 891.0,450.0 889.0,451.0 C887.0,452.0 878.2,455.0 877.0,453.7 C875.8,452.4 878.5,444.6 879.7,440.3 C880.9,436.0 884.6,423.2 886.3,419.0 C888.0,414.8 891.2,408.9 893.0,407.0 C894.8,405.1 898.8,404.0 901.0,403.8Z" fill="#abb1bb"/>
<path d="M921.8,441.7 C922.2,441.2 926.4,441.5 926.9,441.7 C927.4,441.9 928.3,443.7 928.2,444.3 C928.1,444.9 925.5,449.4 925.0,449.7 C924.5,450.0 922.0,449.5 921.8,448.9 C921.6,448.3 921.4,442.2 921.8,441.7Z" fill="#dfe0e3"/>
<path d="M977.0,405.7 C978.7,403.7 982.8,400.0 985.0,399.0 C987.2,398.0 992.5,397.4 994.3,397.7 C996.1,398.0 998.7,400.4 999.7,401.7 C1000.7,403.0 1000.8,407.2 1002.3,408.3 C1003.8,409.4 1011.4,408.8 1011.7,410.5 C1012.0,412.2 1006.7,419.3 1005.0,421.7 C1003.3,424.1 1000.1,428.4 998.3,429.7 C996.5,431.0 992.6,432.0 990.3,431.8 C988.0,431.6 981.9,429.6 979.7,428.3 C977.5,427.0 974.0,423.4 973.0,421.7 C972.0,420.0 971.2,417.0 971.7,415.0 C972.2,413.0 975.3,407.7 977.0,405.7Z" fill="#7d8789"/>
<path d="M988.5,443.5 C989.0,443.0 993.8,444.0 994.3,444.3 C994.8,444.6 995.1,446.5 994.9,447.0 C994.7,447.5 992.2,451.2 991.7,451.5 C991.2,451.8 988.4,452.1 988.2,451.5 C988.0,450.9 988.0,444.0 988.5,443.5Z" fill="#abb1bb"/>
<path d="M979.7,369.0 C980.0,368.8 986.0,368.8 986.3,369.0 C986.6,369.2 985.3,373.5 985.0,373.7 C984.7,373.9 980.5,373.3 980.2,373.1 C979.9,372.9 979.4,369.2 979.7,369.0Z" fill="#abb1bb"/>
<path d="M1021.0,369.5 C1024.2,368.1 1046.2,368.6 1049.0,370.3 C1051.8,372.1 1049.8,384.4 1049.5,387.0 C1049.2,389.6 1047.3,394.9 1046.3,396.3 C1045.3,397.7 1041.3,400.5 1039.7,400.9 C1038.1,401.3 1032.3,400.7 1030.3,400.3 C1028.3,399.9 1021.7,397.6 1019.7,397.1 C1017.7,396.6 1011.2,395.7 1010.3,395.0 C1009.4,394.3 1010.4,390.8 1011.1,389.7 C1011.8,388.6 1016.5,386.3 1017.5,384.3 C1018.5,382.3 1017.9,370.9 1021.0,369.5Z" fill="#abb1bb"/>
<path d="M1070.3,391.0 C1073.0,388.6 1083.5,384.5 1086.3,383.8 C1089.1,383.1 1091.9,384.3 1093.0,385.7 C1094.1,387.1 1094.9,391.2 1094.9,395.0 C1094.9,398.8 1093.7,411.6 1093.0,416.3 C1092.3,421.0 1090.5,429.8 1089.0,432.3 C1087.5,434.8 1083.7,436.0 1081.0,436.3 C1078.3,436.6 1071.0,435.7 1067.7,435.0 C1064.4,434.3 1056.0,432.1 1054.3,431.0 C1052.6,429.9 1053.0,428.0 1053.8,426.5 C1054.6,425.0 1059.6,421.9 1061.0,419.0 C1062.4,416.1 1063.8,406.5 1065.0,403.0 C1066.2,399.5 1067.6,393.4 1070.3,391.0Z" fill="#dfe0e3"/>
<path d="M941.0,463.8 C941.4,462.6 945.5,462.7 946.3,463.0 C947.1,463.3 951.4,467.5 951.7,468.3 C952.0,469.1 951.3,472.9 950.9,473.7 C950.5,474.5 947.1,478.6 946.3,479.0 C945.5,479.4 940.9,480.1 940.5,479.0 C940.1,477.9 940.6,465.0 941.0,463.8Z" fill="#9ea5aa"/>
<path d="M962.3,495.7 C960.6,494.9 964.3,487.3 965.0,485.7 C965.7,484.1 970.2,476.2 971.7,475.0 C973.2,473.8 983.2,469.5 984.5,469.7 C985.8,469.9 988.4,476.6 989.0,477.7 C989.6,478.8 992.6,482.9 992.5,484.3 C992.4,485.7 990.0,496.1 987.7,497.0 C985.4,497.9 964.0,496.5 962.3,495.7Z" fill="#dfe0e3"/>
<path d="M881.7,505.8 C880.2,505.5 890.9,497.3 891.7,496.3 C892.5,495.3 896.7,485.7 898.3,485.1 C899.9,484.5 922.9,483.5 924.2,483.8 C925.5,484.1 924.3,490.1 924.2,491.0 C924.1,491.9 924.4,501.6 922.3,502.3 C920.2,503.0 883.2,506.1 881.7,505.8Z" fill="#dfe0e3"/>
<path d="M1037.8,461.1 C1038.3,458.4 1044.1,460.0 1045.0,460.3 C1045.9,460.6 1049.7,464.8 1050.3,465.7 C1050.9,466.6 1052.9,471.5 1053.0,472.3 C1053.1,473.1 1051.4,475.9 1051.1,476.3 C1050.8,476.7 1048.8,477.0 1048.5,477.7 C1048.2,478.4 1047.3,484.3 1046.9,485.7 C1046.5,487.1 1043.8,494.9 1043.1,495.7 C1042.4,496.4 1038.2,498.3 1037.8,495.7 C1037.4,493.1 1037.3,463.8 1037.8,461.1Z" fill="#dfe0e3"/>
<path d="M1077.8,469.7 C1078.0,468.7 1081.1,466.3 1081.5,466.5 C1081.9,466.7 1083.8,471.7 1084.2,472.3 C1084.6,472.9 1087.5,475.6 1087.7,476.3 C1087.9,477.1 1087.7,483.9 1087.1,484.3 C1086.5,484.7 1078.4,483.4 1077.8,482.5 C1077.2,481.6 1077.6,470.7 1077.8,469.7Z" fill="#dfe0e3"/>
<path d="M1119.7,374.5 C1122.1,373.7 1163.1,375.7 1165.0,376.3 C1166.9,376.9 1159.0,384.5 1158.3,385.7 C1157.6,386.9 1152.4,400.0 1150.3,400.9 C1148.2,401.8 1118.2,403.4 1116.5,403.0 C1114.8,402.6 1116.3,393.7 1116.5,392.3 C1116.7,390.9 1117.3,375.3 1119.7,374.5Z" fill="#abb1bb"/>
<path d="M1195.7,370.1 C1199.2,368.2 1217.9,368.8 1221.0,370.1 C1224.1,371.4 1223.4,379.2 1223.1,381.7 C1222.8,384.2 1220.0,389.9 1218.3,392.3 C1216.6,394.7 1210.2,401.5 1207.7,403.0 C1205.2,404.5 1198.5,406.0 1196.5,405.7 C1194.5,405.4 1191.4,401.7 1190.3,400.3 C1189.2,398.9 1186.3,395.2 1186.3,393.7 C1186.3,392.2 1189.2,389.7 1190.3,387.0 C1191.4,384.3 1192.2,372.0 1195.7,370.1Z" fill="#dfe0e3"/>
<path d="M1117.5,413.7 C1118.1,413.2 1122.7,411.7 1123.1,412.3 C1123.5,412.9 1122.7,421.5 1122.3,422.2 C1121.9,422.9 1118.8,422.0 1118.3,421.7 C1117.8,421.4 1115.8,419.1 1115.7,418.5 C1115.6,417.9 1116.9,414.2 1117.5,413.7Z" fill="#abb1bb"/>
<path d="M1171.7,411.5 C1172.6,410.8 1177.9,409.4 1178.3,410.5 C1178.7,411.6 1177.6,425.4 1177.0,426.5 C1176.4,427.6 1171.7,425.4 1170.9,424.9 C1170.1,424.4 1166.2,421.3 1166.3,420.3 C1166.4,419.3 1170.8,412.2 1171.7,411.5Z" fill="#abb1bb"/>
<path d="M1283.7,374.2 C1284.3,373.8 1289.1,372.4 1289.5,373.1 C1289.9,373.8 1288.9,383.1 1288.5,383.8 C1288.1,384.5 1284.2,382.6 1283.7,382.2 C1283.2,381.8 1281.8,379.6 1281.8,379.0 C1281.8,378.4 1283.1,374.6 1283.7,374.2Z" fill="#abb1bb"/>
<path d="M1271.7,420.3 C1271.9,418.1 1278.2,413.8 1279.7,413.1 C1281.2,412.4 1288.0,411.9 1289.0,412.3 C1290.0,412.7 1291.7,416.4 1291.7,417.7 C1291.7,419.0 1289.3,425.2 1289.0,427.0 C1288.7,428.8 1288.4,435.9 1287.7,437.7 C1287.0,439.5 1281.9,447.8 1281.0,447.8 C1280.1,447.8 1277.8,440.1 1277.0,437.7 C1276.2,435.3 1271.5,422.5 1271.7,420.3Z" fill="#abb1bb"/>
<path d="M1243.7,435.0 C1243.9,434.0 1246.6,427.8 1247.1,427.5 C1247.5,427.2 1250.5,430.4 1250.9,431.0 C1251.3,431.6 1253.6,436.8 1253.8,437.7 C1254.0,438.6 1254.1,445.3 1253.5,445.7 C1252.9,446.1 1244.5,444.5 1243.9,443.8 C1243.3,443.1 1243.5,436.0 1243.7,435.0Z" fill="#dfe0e3"/>
<path d="M1305.0,416.9 C1305.2,415.9 1310.8,408.9 1311.7,408.3 C1312.6,407.7 1316.3,407.1 1316.5,408.3 C1316.7,409.5 1315.5,422.8 1314.9,423.8 C1314.3,424.8 1309.7,422.7 1309.0,422.2 C1308.3,421.7 1304.8,417.9 1305.0,416.9Z" fill="#dfe0e3"/>
<path d="M1207.7,444.3 C1208.6,443.6 1215.2,441.9 1215.7,443.0 C1216.2,444.1 1214.4,458.3 1213.8,459.5 C1213.2,460.7 1208.5,459.0 1207.7,458.5 C1206.9,458.0 1203.1,453.4 1203.1,452.3 C1203.1,451.2 1206.8,445.0 1207.7,444.3Z" fill="#9ea5aa"/>
<path d="M1145.0,447.8 C1145.9,447.1 1150.6,445.9 1150.9,447.0 C1151.2,448.1 1149.6,461.9 1149.0,463.0 C1148.4,464.1 1143.9,462.2 1143.1,461.7 C1142.3,461.2 1138.8,457.3 1138.9,456.3 C1139.0,455.3 1144.1,448.5 1145.0,447.8Z" fill="#dfe0e3"/>
<path d="M1105.0,461.1 C1105.5,458.9 1114.0,452.2 1115.7,451.5 C1117.5,450.8 1124.3,452.2 1125.0,453.1 C1125.7,454.0 1124.0,459.9 1123.7,461.7 C1123.4,463.5 1122.7,471.5 1121.8,473.7 C1120.9,475.9 1114.8,486.8 1113.8,487.0 C1112.8,487.2 1111.1,478.6 1110.3,476.3 C1109.5,474.0 1104.5,463.3 1105.0,461.1Z" fill="#abb1bb"/>
<path d="M1154.9,495.7 C1153.0,495.0 1153.5,489.4 1153.8,488.3 C1154.1,487.2 1157.5,483.2 1158.3,481.7 C1159.1,480.2 1164.0,469.6 1165.0,468.3 C1166.0,467.0 1170.3,464.2 1171.7,463.8 C1173.1,463.4 1182.8,461.9 1184.2,463.0 C1185.6,464.1 1190.2,477.2 1190.3,479.0 C1190.4,480.8 1185.9,485.6 1185.0,487.0 C1184.1,488.4 1181.2,497.1 1178.9,497.8 C1176.6,498.5 1156.8,496.4 1154.9,495.7Z" fill="#dfe0e3"/>
<path d="M1229.0,461.7 C1230.0,461.0 1239.6,460.9 1240.2,461.7 C1240.8,462.5 1239.3,472.7 1239.1,475.0 C1238.9,477.3 1237.6,496.4 1236.5,497.8 C1235.4,499.2 1222.4,498.3 1221.0,497.8 C1219.6,497.3 1214.8,490.7 1214.3,489.7 C1213.8,488.7 1212.2,482.4 1212.5,481.7 C1212.8,480.9 1217.6,478.3 1218.3,477.7 C1219.0,477.1 1223.0,473.3 1223.7,472.3 C1224.4,471.3 1228.0,462.4 1229.0,461.7Z" fill="#7d8789"/>
<path d="M1257.8,487.0 C1257.9,485.3 1264.4,477.2 1266.3,475.0 C1268.2,472.8 1272.2,468.3 1274.3,467.5 C1276.4,466.7 1282.8,467.0 1285.0,467.5 C1287.2,468.0 1292.9,470.9 1294.3,472.3 C1295.7,473.7 1297.5,478.5 1297.8,480.3 C1298.1,482.1 1298.7,486.7 1297.0,488.2 C1295.3,489.7 1285.5,492.7 1282.3,493.5 C1279.1,494.3 1270.9,496.1 1269.0,495.7 C1267.1,495.3 1266.3,490.7 1265.0,489.7 C1263.7,488.7 1257.7,488.7 1257.8,487.0Z" fill="#7d8789"/>
<path d="M1304.2,467.0 C1304.1,466.7 1307.4,462.0 1307.7,461.7 C1308.0,461.4 1311.0,461.4 1311.1,461.7 C1311.2,462.0 1309.8,467.2 1309.5,467.5 C1309.2,467.8 1304.3,467.3 1304.2,467.0Z" fill="#dfe0e3"/>
<path d="M1311.3,309.7 C1312.9,306.9 1316.1,307.8 1318.0,308.3 C1319.9,308.8 1331.0,313.7 1332.7,315.0 C1334.5,316.3 1337.4,321.4 1338.0,323.0 C1338.6,324.6 1340.0,331.8 1339.3,333.7 C1338.6,335.6 1331.5,342.7 1330.0,344.3 C1328.5,345.9 1323.4,350.7 1322.0,352.3 C1320.6,353.9 1317.0,361.5 1314.0,362.5 C1311.0,363.5 1288.5,365.5 1287.3,363.5 C1286.1,361.5 1297.9,344.7 1300.0,340.0 C1302.1,335.3 1309.7,312.5 1311.3,309.7Z" fill="#abb1bb"/>
<path d="M1286.0,268.3 C1286.4,267.8 1294.9,267.5 1295.3,268.3 C1295.7,269.1 1294.4,283.8 1294.0,284.3 C1293.6,284.8 1287.7,278.5 1287.3,277.7 C1286.9,276.9 1285.6,268.8 1286.0,268.3Z" fill="#abb1bb"/>
<path d="M1318.0,283.0 C1318.5,282.4 1323.0,281.1 1323.3,281.7 C1323.6,282.3 1323.0,290.9 1322.5,291.5 C1322.0,292.1 1317.0,290.3 1316.7,289.7 C1316.4,289.1 1317.5,283.6 1318.0,283.0Z" fill="#dfe0e3"/>
<path d="M1335.9,373.7 C1336.7,373.0 1343.4,371.3 1343.9,372.3 C1344.4,373.3 1342.5,385.9 1342.0,387.0 C1341.5,388.1 1338.2,386.9 1337.5,386.5 C1336.8,386.1 1332.8,382.7 1332.7,381.7 C1332.6,380.7 1335.1,374.4 1335.9,373.7Z" fill="#abb1bb"/>
<path d="M1323.5,240.0 C1323.7,239.7 1326.8,240.6 1327.0,241.0 C1327.2,241.4 1327.7,247.2 1327.5,247.5 C1327.3,247.8 1324.2,247.4 1324.0,247.0 C1323.8,246.6 1323.3,240.3 1323.5,240.0Z" fill="#abb1bb"/>
</g>
<line x1="870.6" y1="127.5" x2="870.6" y2="506" stroke="#0a0a0a" stroke-width="1.7"/>
<clipPath id="pc"><rect x="747.2" y="166.5" width="123.5" height="305.6"/></clipPath>
<rect x="747.2" y="166.5" width="123.5" height="305.6" fill="#fff"/>
<g clip-path="url(#pc)" stroke="#111" stroke-width="1.6">
<line x1="780.5" y1="150" x2="440.5" y2="490"/>
<line x1="819.8" y1="150" x2="479.8" y2="490"/>
<line x1="859.0" y1="150" x2="519.0" y2="490"/>
<line x1="898.2" y1="150" x2="558.2" y2="490"/>
<line x1="937.5" y1="150" x2="597.5" y2="490"/>
<line x1="976.8" y1="150" x2="636.8" y2="490"/>
<line x1="1016.0" y1="150" x2="676.0" y2="490"/>
<line x1="1055.2" y1="150" x2="715.2" y2="490"/>
<line x1="1094.5" y1="150" x2="754.5" y2="490"/>
<line x1="1133.8" y1="150" x2="793.8" y2="490"/>
<line x1="1173.0" y1="150" x2="833.0" y2="490"/>
<line x1="1212.2" y1="150" x2="872.2" y2="490"/>
</g>
<rect x="747.2" y="275" width="124" height="85" fill="#fff"/>
<rect x="747.2" y="274.8" width="123.8" height="13.1" fill="#000"/>
<rect x="747.2" y="347.2" width="123.8" height="13" fill="#000"/>
<rect x="747.2" y="166.5" width="123.5" height="305.6" fill="none" stroke="#111" stroke-width="1.3"/>
<path d="M1186,262.5 L1279.9,262.5 L1312.7,317.1 L1279.9,371.5 L1186,371.5 Z" fill="#fff" stroke="#111" stroke-width="2.8" stroke-linejoin="miter"/>
<path d="M870.3,266.5 L1035,265 L1188,255.8 L1188,379.2 L1035,370 L870.3,368.3 Z" fill="#fff" stroke="#111" stroke-width="2.8" stroke-linejoin="miter"/>
<path d="M1188,299.3 L1037.5,310.8 L1037.5,322 L1188,330.6" fill="#fff" stroke="#111" stroke-width="2.4" stroke-linejoin="miter"/>
<path d="M1051.3,310 L1070.8,308.6 L1070.8,323.7 L1051.3,322.6 Z" fill="#000"/>
<line x1="1188" y1="255" x2="1188" y2="380" stroke="#111" stroke-width="2.8"/>
<path d="M1188,285.2 L1268.1,276.3 L1268.1,357.1 L1188,347.5" fill="none" stroke="#111" stroke-width="2.8" stroke-linejoin="miter"/>
<path d="M1268.1,276.3 C1272,279 1275.3,285 1275.3,292 L1275.3,344 C1275.3,350 1272,355 1268.1,357.1" fill="none" stroke="#111" stroke-width="2"/>
<linearGradient id="tg" gradientUnits="userSpaceOnUse" x1="930" y1="0" x2="962" y2="0"><stop offset="0" stop-color="#9a9a9a"/><stop offset="1" stop-color="#2a2a2a"/></linearGradient>
<path d="M876,271.4 H985.0" stroke="url(#tg)" stroke-width="1.3" stroke-dasharray="4.4 1.4" stroke-dashoffset="-0.0" fill="none"/>
<path d="M876,273.9 H987.7" stroke="url(#tg)" stroke-width="1.3" stroke-dasharray="4.4 1.4" stroke-dashoffset="-0.9" fill="none"/>
<path d="M876,276.4 H990.4" stroke="url(#tg)" stroke-width="1.3" stroke-dasharray="4.4 1.4" stroke-dashoffset="-1.8" fill="none"/>
<path d="M876,278.9 H993.1" stroke="url(#tg)" stroke-width="1.3" stroke-dasharray="4.4 1.4" stroke-dashoffset="-2.7" fill="none"/>
<path d="M876,281.4 H995.9" stroke="url(#tg)" stroke-width="1.3" stroke-dasharray="4.4 1.4" stroke-dashoffset="-3.6" fill="none"/>
<path d="M876,283.9 H998.6" stroke="url(#tg)" stroke-width="1.3" stroke-dasharray="4.4 1.4" stroke-dashoffset="-4.5" fill="none"/>
<path d="M876,286.4 H1001.3" stroke="url(#tg)" stroke-width="1.3" stroke-dasharray="4.4 1.4" stroke-dashoffset="-5.4" fill="none"/>
<path d="M876,288.9 H1004.0" stroke="url(#tg)" stroke-width="1.3" stroke-dasharray="4.4 1.4" stroke-dashoffset="-6.3" fill="none"/>
<path d="M876,347.6 H1004.0" stroke="url(#tg)" stroke-width="1.3" stroke-dasharray="4.4 1.4" stroke-dashoffset="0.0" fill="none"/>
<path d="M876,350.1 H1001.3" stroke="url(#tg)" stroke-width="1.3" stroke-dasharray="4.4 1.4" stroke-dashoffset="0.9" fill="none"/>
<path d="M876,352.6 H998.6" stroke="url(#tg)" stroke-width="1.3" stroke-dasharray="4.4 1.4" stroke-dashoffset="1.8" fill="none"/>
<path d="M876,355.1 H995.9" stroke="url(#tg)" stroke-width="1.3" stroke-dasharray="4.4 1.4" stroke-dashoffset="2.7" fill="none"/>
<path d="M876,357.6 H993.1" stroke="url(#tg)" stroke-width="1.3" stroke-dasharray="4.4 1.4" stroke-dashoffset="3.6" fill="none"/>
<path d="M876,360.1 H990.4" stroke="url(#tg)" stroke-width="1.3" stroke-dasharray="4.4 1.4" stroke-dashoffset="4.5" fill="none"/>
<path d="M876,362.6 H987.7" stroke="url(#tg)" stroke-width="1.3" stroke-dasharray="4.4 1.4" stroke-dashoffset="5.4" fill="none"/>
<path d="M876,365.1 H985.0" stroke="url(#tg)" stroke-width="1.3" stroke-dasharray="4.4 1.4" stroke-dashoffset="6.3" fill="none"/>
<line x1="876" y1="292.6" x2="892" y2="292.6" stroke="#777" stroke-width="1.3"/>
<line x1="997.3" y1="292.6" x2="1004" y2="292.6" stroke="#777" stroke-width="1.3"/>
<line x1="876" y1="295.8" x2="892" y2="295.8" stroke="#333" stroke-width="1.3"/>
<line x1="997.3" y1="295.8" x2="1004" y2="295.8" stroke="#333" stroke-width="1.3"/>
<line x1="876" y1="299.0" x2="892" y2="299.0" stroke="#777" stroke-width="1.3"/>
<line x1="997.3" y1="299.0" x2="1004" y2="299.0" stroke="#777" stroke-width="1.3"/>
<line x1="876" y1="302.2" x2="892" y2="302.2" stroke="#777" stroke-width="1.3"/>
<line x1="997.3" y1="302.2" x2="1004" y2="302.2" stroke="#777" stroke-width="1.3"/>
<line x1="876" y1="305.4" x2="892" y2="305.4" stroke="#333" stroke-width="1.3"/>
<line x1="997.3" y1="305.4" x2="1004" y2="305.4" stroke="#333" stroke-width="1.3"/>
<line x1="876" y1="308.6" x2="892" y2="308.6" stroke="#777" stroke-width="1.3"/>
<line x1="997.3" y1="308.6" x2="1004" y2="308.6" stroke="#777" stroke-width="1.3"/>
<line x1="876" y1="311.8" x2="892" y2="311.8" stroke="#777" stroke-width="1.3"/>
<line x1="997.3" y1="311.8" x2="1004" y2="311.8" stroke="#777" stroke-width="1.3"/>
<line x1="876" y1="315.0" x2="892" y2="315.0" stroke="#333" stroke-width="1.3"/>
<line x1="997.3" y1="315.0" x2="1004" y2="315.0" stroke="#333" stroke-width="1.3"/>
<line x1="876" y1="318.2" x2="892" y2="318.2" stroke="#777" stroke-width="1.3"/>
<line x1="997.3" y1="318.2" x2="1004" y2="318.2" stroke="#777" stroke-width="1.3"/>
<line x1="876" y1="321.4" x2="892" y2="321.4" stroke="#777" stroke-width="1.3"/>
<line x1="997.3" y1="321.4" x2="1004" y2="321.4" stroke="#777" stroke-width="1.3"/>
<line x1="876" y1="324.6" x2="892" y2="324.6" stroke="#333" stroke-width="1.3"/>
<line x1="997.3" y1="324.6" x2="1004" y2="324.6" stroke="#333" stroke-width="1.3"/>
<line x1="876" y1="327.8" x2="892" y2="327.8" stroke="#777" stroke-width="1.3"/>
<line x1="997.3" y1="327.8" x2="1004" y2="327.8" stroke="#777" stroke-width="1.3"/>
<line x1="876" y1="331.0" x2="892" y2="331.0" stroke="#777" stroke-width="1.3"/>
<line x1="997.3" y1="331.0" x2="1004" y2="331.0" stroke="#777" stroke-width="1.3"/>
<line x1="876" y1="334.2" x2="892" y2="334.2" stroke="#333" stroke-width="1.3"/>
<line x1="997.3" y1="334.2" x2="1004" y2="334.2" stroke="#333" stroke-width="1.3"/>
<line x1="876" y1="337.4" x2="892" y2="337.4" stroke="#777" stroke-width="1.3"/>
<line x1="997.3" y1="337.4" x2="1004" y2="337.4" stroke="#777" stroke-width="1.3"/>
<line x1="876" y1="340.6" x2="892" y2="340.6" stroke="#777" stroke-width="1.3"/>
<line x1="997.3" y1="340.6" x2="1004" y2="340.6" stroke="#777" stroke-width="1.3"/>
<line x1="876" y1="343.8" x2="892" y2="343.8" stroke="#333" stroke-width="1.3"/>
<line x1="997.3" y1="343.8" x2="1004" y2="343.8" stroke="#333" stroke-width="1.3"/>
<path d="M731.5,246.8 L746.6,234.6 L746.6,401.3 L731.5,392.2 Z" fill="#fff" stroke="#111" stroke-width="2.4" stroke-linejoin="miter"/>
<line x1="746.8" y1="233.6" x2="746.8" y2="402.2" stroke="#111" stroke-width="3"/>
<rect x="678.4" y="246.6" width="53" height="32" rx="6" ry="6" fill="#fff" stroke="#111" stroke-width="3"/>
<rect x="678.4" y="278.6" width="53" height="81.4" rx="6" ry="6" fill="#fff" stroke="#111" stroke-width="3"/>
<rect x="678.4" y="360" width="53" height="32.6" rx="6" ry="6" fill="#fff" stroke="#111" stroke-width="3"/>
<g stroke="#111" stroke-width="1.5" fill="none">
<line x1="869.9" y1="51" x2="869.9" y2="123"/>
<line x1="1188" y1="51" x2="1188" y2="256"/>
<line x1="880" y1="64.7" x2="1003.5" y2="64.7"/>
<line x1="1056.7" y1="64.7" x2="1178" y2="64.7"/>
<line x1="869.9" y1="511.7" x2="869.9" y2="566.7"/>
<line x1="1313.6" y1="328" x2="1313.6" y2="566.7"/>
<line x1="880" y1="552.7" x2="1062.7" y2="552.7"/>
<line x1="1116.7" y1="552.7" x2="1304" y2="552.7"/>
<line x1="1300.3" y1="262.5" x2="1434.6" y2="262.5"/>
<line x1="1308.7" y1="275.1" x2="1434.6" y2="275.1"/>
<line x1="1308.7" y1="357.6" x2="1434.6" y2="357.6"/>
<line x1="1300.3" y1="370.6" x2="1434.6" y2="370.6"/>
<line x1="1381.4" y1="208" x2="1381.4" y2="262"/>
<line x1="1426.7" y1="195" x2="1426.7" y2="250"/>
<line x1="1381.4" y1="370" x2="1381.4" y2="425"/>
<line x1="1426.7" y1="383" x2="1426.7" y2="439"/>
</g>
<path d="M870.5,64.7 L894.3,54.8 L889.1,64.7 L894.3,74.6Z" fill="#000"/>
<path d="M1187.5,64.7 L1163.7,74.6 L1168.9,64.7 L1163.7,54.8Z" fill="#000"/>
<path d="M870.5,552.7 L894.3,542.8 L889.1,552.7 L894.3,562.6Z" fill="#000"/>
<path d="M1313.0,552.7 L1289.2,562.6 L1294.4,552.7 L1289.2,542.8Z" fill="#000"/>
<path d="M1381.4,275.1 L1371.5,251.3 L1381.4,256.5 L1391.3,251.3Z" fill="#000"/>
<path d="M1426.7,262.5 L1416.8,238.7 L1426.7,243.9 L1436.6,238.7Z" fill="#000"/>
<path d="M1381.4,357.6 L1391.3,381.4 L1381.4,376.2 L1371.5,381.4Z" fill="#000"/>
<path d="M1426.7,370.6 L1436.6,394.4 L1426.7,389.2 L1416.8,394.4Z" fill="#000"/>
<g font-family="Liberation Sans, sans-serif" fill="#000" filter="url(#nf)">
<text id="tL" x="1018" y="78" font-size="43">L</text>
<text id="tM" x="1361.5" y="331.6" font-size="43" textLength="41.5" lengthAdjust="spacingAndGlyphs">M</text>
<text id="tD" x="1410.8" y="331.6" font-size="43">D</text>
<text id="te" x="1078" y="564" font-size="43">e</text>
</g>
</svg>
</body></html>
